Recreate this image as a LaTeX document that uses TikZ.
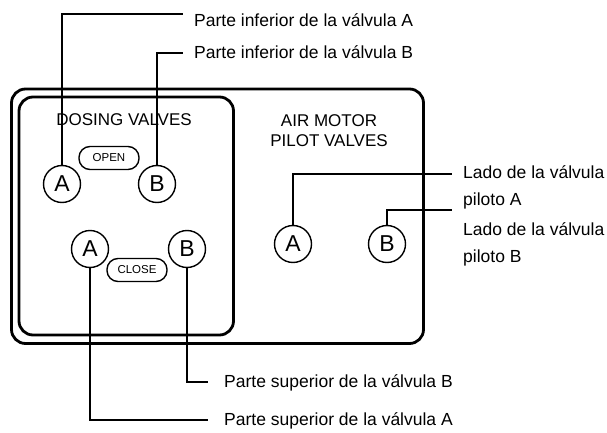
\documentclass[tikz,border=0pt]{standalone}
\usepackage{fontspec}
\setmainfont{Liberation Sans}
\usetikzlibrary{positioning}

\begin{document}
\begin{tikzpicture}[
    x=1pt,
    y=-1pt,
    valve node/.style={circle,draw,line width=1.4pt,minimum size=37pt,inner sep=0pt,font=\fontsize{23}{23}\selectfont},
    pill node/.style={rectangle,rounded corners=11pt,draw,line width=1.4pt,minimum width=60pt,minimum height=23pt,inner sep=0pt,font=\fontsize{11.5}{11.5}\selectfont},
    title node/.style={align=center,inner sep=0pt,font=\fontsize{17}{20}\selectfont},
    label node/.style={align=left,inner sep=0pt,font=\fontsize{17.5}{27}\selectfont},
    panel/.style={draw,line width=2.8pt,rounded corners=14pt},
    leader/.style={draw,line width=1.9pt}
]
\useasboundingbox (0,0) rectangle (607,433);

% Panels
\draw[panel] (11.5,89) rectangle (423.5,343.5);
\draw[panel] (19,97) rectangle (233.5,335);

% Titles
\node[title node] (dosing) at (124,120) {DOSING VALVES};
\node[title node] (airmotor) at (329,131) {AIR MOTOR\\PILOT VALVES};

% Dosing valves
\node[valve node] (openA) at (62,184) {A};
\node[valve node] (openB) at (157,184) {B};
\node[pill node] (open) at (109,158) {OPEN};
\node[valve node] (closeA) at (90,249) {A};
\node[valve node] (closeB) at (187,249) {B};
\node[pill node] (close) at (137,270) {CLOSE};

% Air motor pilot valves
\node[valve node] (pilotA) at (293,244) {A};
\node[valve node] (pilotB) at (387,244) {B};

% Labels
\node[label node,anchor=base west] (infA) at (194,27) {Parte inferior de la válvula A};
\node[label node,anchor=base west] (infB) at (194,59) {Parte inferior de la válvula B};
\node[label node,anchor=base west] (supB) at (224,387) {Parte superior de la válvula B};
\node[label node,anchor=base west] (supA) at (224,425) {Parte superior de la válvula A};
\node[label node,anchor=west] (ladoA) at (463,187) {Lado de la válvula\\piloto A};
\node[label node,anchor=west] (ladoB) at (463,244) {Lado de la válvula\\piloto B};

% Leader ends
\coordinate (infAend) at (183,14);
\coordinate (infBend) at (183,53);
\coordinate (supBend) at (208,382);
\coordinate (supAend) at (208,420);
\coordinate (ladoAend) at (452,174);
\coordinate (ladoBend) at (452,210);

% Leaders
\draw[leader] (openA.north) |- (infAend);
\draw[leader] (openB.north) |- (infBend);
\draw[leader] (closeB.south) |- (supBend);
\draw[leader] (closeA.south) |- (supAend);
\draw[leader] (pilotA.north) |- (ladoAend);
\draw[leader] (pilotB.north) |- (ladoBend);

\end{tikzpicture}
\end{document}
